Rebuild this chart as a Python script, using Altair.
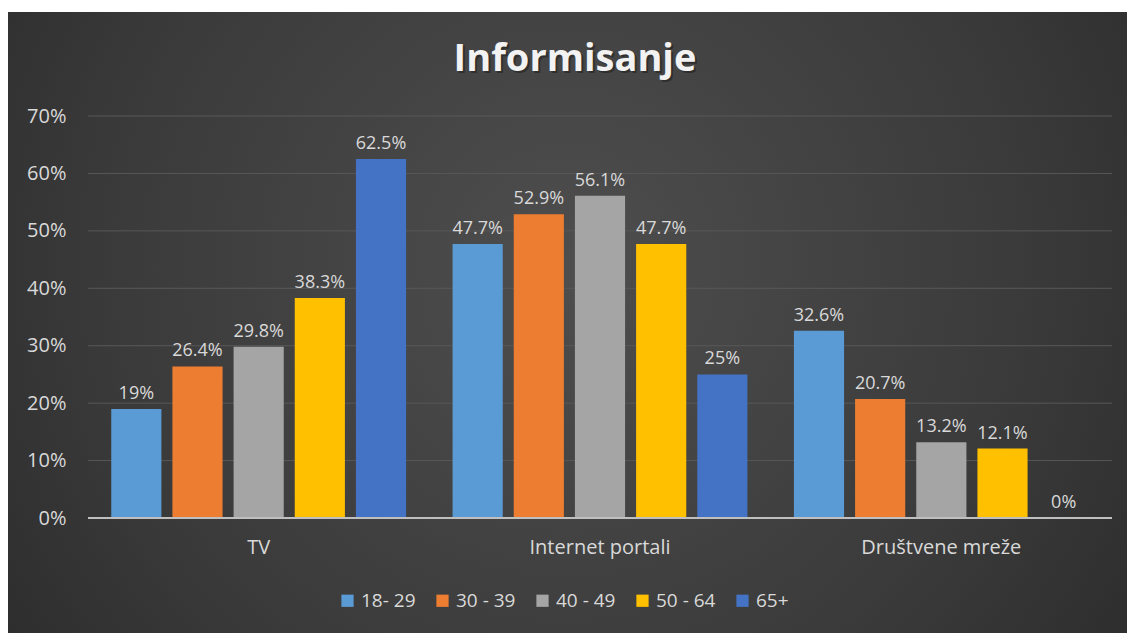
import altair as alt
import pandas as pd

title_text = "Informisanje"
categories = ["TV", "Internet portali", "Društvene mreže"]
age_groups = ["18- 29", "30 - 39", "40 - 49", "50 - 64", "65+"]
values_18_29 = [19, 47.7, 32.6]
values_30_39 = [26.4, 52.9, 20.7]
values_40_49 = [29.8, 56.1, 13.2]
values_50_64 = [38.3, 47.7, 12.1]
values_65 = [62.5, 25, 0]
colors = ["#5b9bd5", "#ed7d31", "#a5a5a5", "#ffc000", "#4472c4"]
grid_ticks = [10, 20, 30, 40, 50, 60, 70]

series = [values_18_29, values_30_39, values_40_49, values_50_64, values_65]
rows = []
for g, vals in zip(age_groups, series):
    for c, v in zip(categories, vals):
        rows.append({"kategorija": c, "grupa": g, "vrijednost": v,
                     "oznaka": f"{v:g}%"})
df = pd.DataFrame(rows)

FONT = "Open Sans"
LABEL = "#d9d9d9"
W, H = 1024, 402

x = alt.X("kategorija:N", sort=categories, title=None,
          scale=alt.Scale(paddingInner=0, paddingOuter=0),
          axis=alt.Axis(labelAngle=0, labelFontSize=20, labelColor=LABEL,
                        labelFont=FONT, ticks=False, domain=False,
                        labelPadding=19, zindex=2))
xo = alt.XOffset("grupa:N", sort=age_groups,
                 scale=alt.Scale(paddingInner=0.18, paddingOuter=0.38))
y = alt.Y("vrijednost:Q", title=None,
          scale=alt.Scale(domain=[0, 70]),
          axis=alt.Axis(values=[0, 10, 20, 30, 40, 50, 60, 70],
                        labelExpr="datum.value + '%'", labelFontSize=20,
                        labelColor=LABEL, labelFont=FONT, ticks=False,
                        domain=False, grid=False, labelPadding=22,
                        zindex=2))

# decorative radial-gradient background panel (whole chart)
bg = alt.Chart(pd.DataFrame({"a": [0]})).mark_rect(
    clip=False,
    fill={"gradient": "radial", "x1": 0.5, "y1": 0.45, "r1": 0,
          "x2": 0.5, "y2": 0.45, "r2": 0.75,
          "stops": [{"offset": 0, "color": "#4e4e4e"},
                    {"offset": 0.55, "color": "#3a3a3a"},
                    {"offset": 1, "color": "#242424"}]},
).encode(x=alt.value(-80), x2=alt.value(1039),
         y=alt.value(-104), y2=alt.value(517))

title_df = pd.DataFrame({"t": [title_text]})
title_shadow = alt.Chart(title_df).mark_text(
    font=FONT, fontSize=38, fontWeight="bold", color="#1a1a1a",
    opacity=0.5, align="center", baseline="middle", clip=False,
).encode(x=alt.value(489), y=alt.value(-54), text="t:N")
title_mark = alt.Chart(title_df).mark_text(
    font=FONT, fontSize=38, fontWeight="bold", color="#f2f2f2",
    align="center", baseline="middle", clip=False,
).encode(x=alt.value(487), y=alt.value(-56), text="t:N")

grid = alt.Chart(pd.DataFrame({"t": grid_ticks})).mark_rule(
    color="#585858", strokeWidth=1).encode(
    y=alt.Y("t:Q", scale=alt.Scale(domain=[0, 70])))

bars = alt.Chart(df).mark_bar().encode(
    x=x, xOffset=xo, y=y,
    color=alt.Color("grupa:N", sort=age_groups,
                    scale=alt.Scale(domain=age_groups, range=colors),
                    legend=alt.Legend(title=None, orient="none",
                                      direction="horizontal",
                                      legendX=250, legendY=475,
                                      symbolType="square", symbolSize=150,
                                      symbolStrokeWidth=0,
                                      labelFontSize=19, labelColor=LABEL,
                                      labelFont=FONT, labelOffset=4,
                                      columnPadding=17, zindex=2)),
)

labels = alt.Chart(df).mark_text(baseline="bottom", dy=-6, fontSize=18,
                                 color=LABEL, font=FONT).encode(
    x=x, xOffset=xo, y=y, text="oznaka:N")

zero_line = alt.Chart(pd.DataFrame({"v": [0]})).mark_rule(
    color="#bfbfbf", strokeWidth=2).encode(y=alt.Y("v:Q"))

chart = alt.layer(bg, title_shadow, title_mark, grid, bars, labels,
                  zero_line).properties(
    width=W, height=H,
    padding={"left": 80, "top": 108, "right": 15, "bottom": 115},
    autosize=alt.AutoSizeParams(type="none"),
    background="white",
).configure_view(stroke=None)

chart.save("out.html", embed_options={"renderer": "svg", "actions": False})
